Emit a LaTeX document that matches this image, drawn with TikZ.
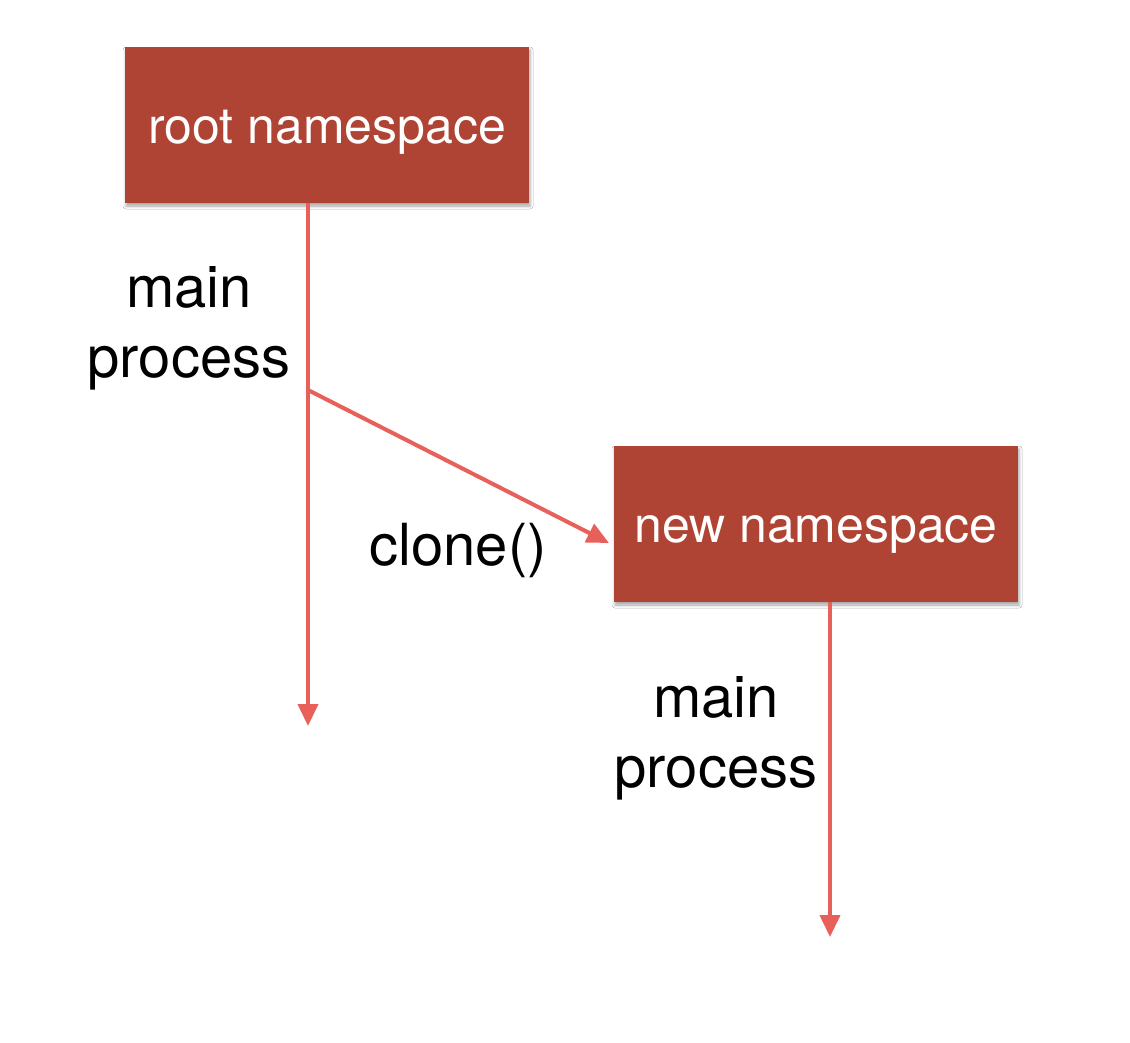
\documentclass[tikz,border=0pt]{standalone}
\usepackage{fontspec}
\setmainfont{TeX Gyre Heros}
\usetikzlibrary{arrows.meta,shadows.blur}
\definecolor{brick}{HTML}{B04434}
\definecolor{flow}{HTML}{E8605A}
\begin{document}
\begin{tikzpicture}[x=1pt,y=-1pt,
  nsbox/.style={fill=brick, minimum width=404pt, minimum height=156pt, inner sep=0pt,
    text height=36pt, text depth=0pt,
    text=white, font=\fontsize{50}{60}\selectfont,
    blur shadow={shadow xshift=1pt, shadow yshift=-3pt, shadow blur radius=3pt, shadow opacity=35}},
  lbl/.style={text=black, align=center, inner sep=0pt, font=\fontsize{58}{70}\selectfont},
  flowline/.style={draw=flow, line width=4pt, -{Triangle[length=22pt,width=20pt]}}]
\useasboundingbox (0,0) rectangle (1130,1042);
\fill[white] (0,0) rectangle (1130,1042);
\node[nsbox] (root) at (327,125) {root namespace};
\node[nsbox] (new) at (816,524) {new namespace};
\coordinate (fork) at (308,390);
\coordinate (end1) at (308,726);
\coordinate (tip) at (609,543);
\coordinate (end2) at (830,937);
\node[lbl] (lab1) at (189,328) {main\\process};
\node[lbl] (lab2) at (458,550) {clone()};
\node[lbl] (lab3) at (716,738) {main\\process};
\draw[flowline] (root.south -| fork) -- (end1);
\draw[flowline] (fork) -- (tip);
\draw[flowline] (new.south -| end2) -- (end2);
\end{tikzpicture}
\end{document}
